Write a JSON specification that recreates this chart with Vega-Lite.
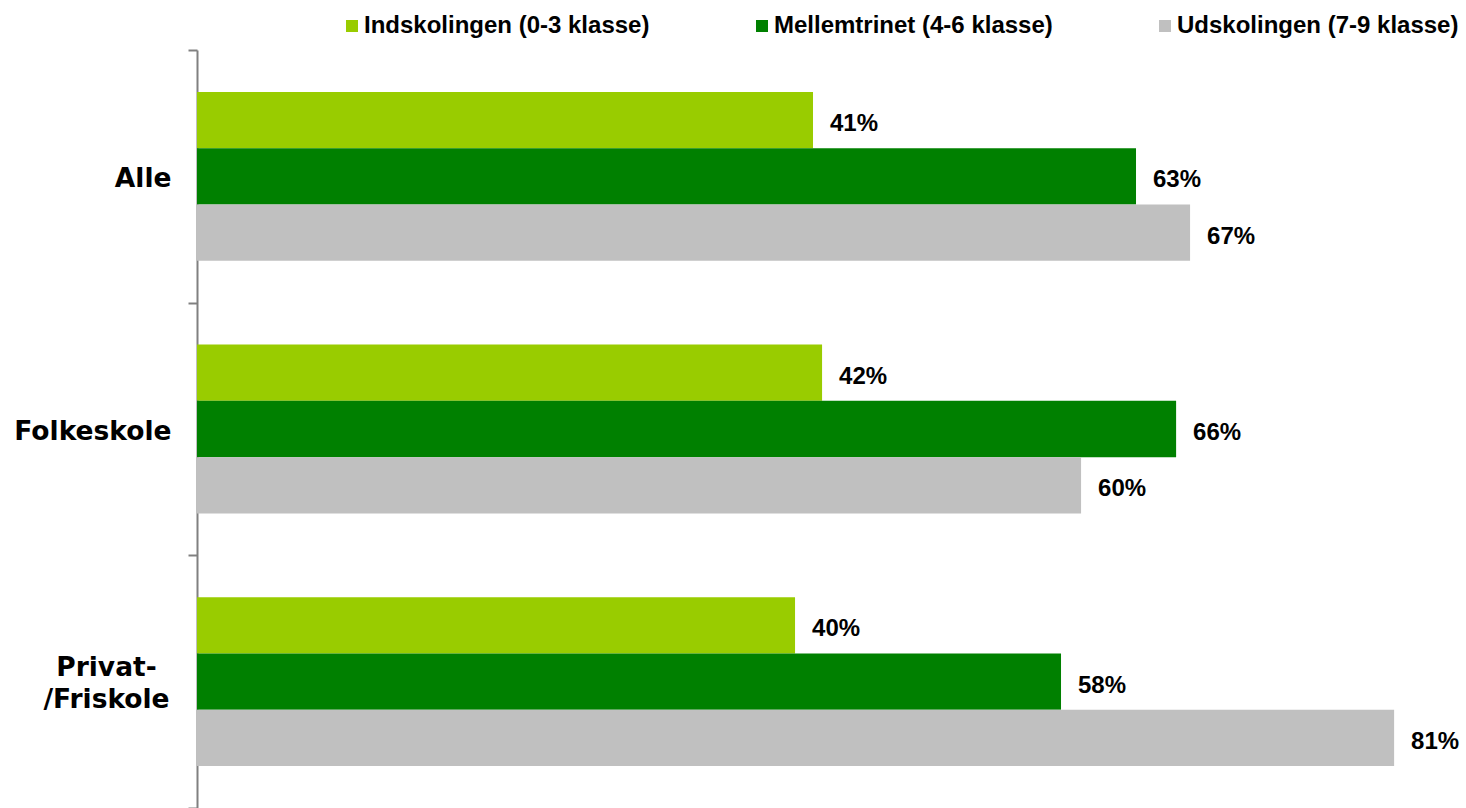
{
  "$schema": "https://vega.github.io/schema/vega-lite/v6.json",
  "autosize": {"type": "none"},
  "padding": {"left": 197, "top": 50, "right": 0, "bottom": 0},
  "width": 1269,
  "height": 758,
  "background": "white",
  "config": {"view": {"stroke": null}, "font": "Liberation Sans"},
  "data": {
    "values": [
      {"group": "Alle", "level": "Indskolingen (0-3 klasse)", "value": 41.48, "label": "41%"},
      {"group": "Alle", "level": "Mellemtrinet (4-6 klasse)", "value": 63.23, "label": "63%"},
      {"group": "Alle", "level": "Udskolingen (7-9 klasse)", "value": 66.87, "label": "67%"},
      {"group": "Folkeskole", "level": "Indskolingen (0-3 klasse)", "value": 42.09, "label": "42%"},
      {"group": "Folkeskole", "level": "Mellemtrinet (4-6 klasse)", "value": 65.93, "label": "66%"},
      {"group": "Folkeskole", "level": "Udskolingen (7-9 klasse)", "value": 59.53, "label": "60%"},
      {"group": "Privat-/Friskole", "level": "Indskolingen (0-3 klasse)", "value": 40.27, "label": "40%"},
      {"group": "Privat-/Friskole", "level": "Mellemtrinet (4-6 klasse)", "value": 58.18, "label": "58%"},
      {"group": "Privat-/Friskole", "level": "Udskolingen (7-9 klasse)", "value": 80.61, "label": "81%"}
    ]
  },
  "encoding": {
    "y": {
      "field": "group",
      "type": "nominal",
      "sort": ["Alle", "Folkeskole", "Privat-/Friskole"],
      "scale": {"paddingInner": 0, "paddingOuter": 0},
      "axis": {
        "title": null,
        "tickBand": "extent",
        "domainColor": "#808080",
        "domainWidth": 2,
        "tickColor": "#808080",
        "tickWidth": 2,
        "tickSize": 9,
        "labelPadding": {"condition": {"test": "datum.value == 'Privat-/Friskole'", "value": 82}, "value": 17},
        "labelAlign": {"condition": {"test": "datum.value == 'Privat-/Friskole'", "value": "center"}, "value": "right"},
        "labelOffset": {"condition": {"test": "datum.value == 'Privat-/Friskole'", "value": -14}, "value": 2},
        "labelFont": "DejaVu Sans",
        "labelFontSize": 26.5,
        "labelFontWeight": "bold",
        "labelColor": "black",
        "labelLineHeight": 32,
        "labelLimit": 0,
        "labelExpr": "datum.value == 'Privat-/Friskole' ? ['Privat-', '/Friskole'] : datum.value"
      }
    },
    "yOffset": {
      "field": "level",
      "type": "nominal",
      "sort": ["Indskolingen (0-3 klasse)", "Mellemtrinet (4-6 klasse)", "Udskolingen (7-9 klasse)"],
      "scale": {"paddingInner": 0, "paddingOuter": 0.744}
    },
    "x": {
      "field": "value",
      "type": "quantitative",
      "scale": {"domain": [0, 85.45], "nice": false, "zero": true},
      "axis": null
    }
  },
  "layer": [
    {
      "mark": {"type": "bar", "strokeWidth": 0},
      "encoding": {
        "color": {
          "field": "level",
          "type": "nominal",
          "sort": ["Indskolingen (0-3 klasse)", "Mellemtrinet (4-6 klasse)", "Udskolingen (7-9 klasse)"],
          "scale": {
            "domain": ["Indskolingen (0-3 klasse)", "Mellemtrinet (4-6 klasse)", "Udskolingen (7-9 klasse)"],
            "range": ["#99CC00", "#008000", "#C0C0C0"]
          },
          "legend": {
            "title": null,
            "orient": "none",
            "direction": "horizontal",
            "legendX": 143,
            "legendY": -36,
            "columnPadding": 100,
            "symbolType": "square",
            "symbolSize": 144,
            "symbolStrokeWidth": 0,
            "symbolOpacity": 1,
            "labelOffset": 0,
            "labelFont": "Liberation Sans",
            "labelFontSize": 24,
            "labelFontWeight": "bold",
            "labelColor": "black",
            "labelLimit": 0
          }
        }
      }
    },
    {
      "mark": {
        "type": "text",
        "align": "left",
        "baseline": "middle",
        "dx": 17,
        "dy": 4,
        "font": "Liberation Sans",
        "fontSize": 24,
        "fontWeight": "bold",
        "color": "black"
      },
      "encoding": {
        "text": {"field": "label", "type": "nominal"}
      }
    }
  ]
}
